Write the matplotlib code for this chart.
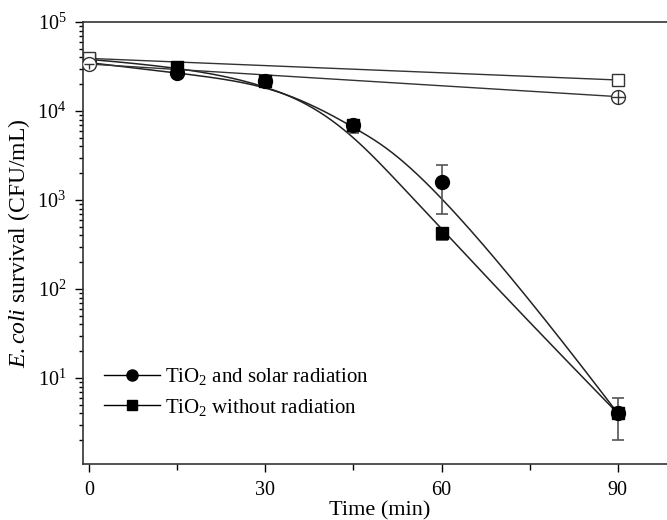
import numpy as np
import matplotlib.pyplot as plt
from matplotlib.ticker import FixedLocator, FuncFormatter, NullFormatter

plt.rcParams["font.family"] = "Liberation Serif"
plt.rcParams["mathtext.fontset"] = "custom"
plt.rcParams["mathtext.rm"] = "Liberation Serif"
plt.rcParams["mathtext.it"] = "Liberation Serif:italic"
plt.rcParams["font.size"] = 14.5

# sampling times (min)
t = np.array([0, 15, 30, 45, 60, 90])

# TiO2 and solar radiation (filled circles)
solar = np.array([3.5e4, 2.65e4, 2.2e4, 7.0e3, 1.6e3, 4.0])
solar_lo = np.array([0, 0, 0, 0, 0.9e3, 0])
solar_hi = np.array([0, 0, 0, 0, 0.9e3, 0])

# TiO2 without radiation (filled squares)
dark = np.array([3.8e4, 3.15e4, 2.15e4, 7.0e3, 430, 4.0])
dark_lo = np.array([0, 0, 0, 1.3e3, 75, 2.0])
dark_hi = np.array([0, 0, 0, 1.0e3, 0, 1.9])

# controls (open symbols), only start and end
t_ctrl = np.array([0, 90])
ctrl_square = np.array([3.9e4, 2.23e4])
ctrl_circle = np.array([3.37e4, 1.45e4])


def bspline_log(x, y, deg=3, n=400):
    # clamped B-spline using the points (x, log10 y) as control polygon
    P = np.column_stack([x.astype(float), np.log10(y)])
    m = len(P)
    k = min(deg, m - 1)
    inner = np.linspace(0, 1, m - k + 1)
    knots = np.concatenate([np.zeros(k), inner, np.ones(k)])
    u = np.linspace(0, 1, n)
    u[-1] = 1 - 1e-12
    # Cox-de Boor recursion
    N = np.zeros((n, len(knots) - 1))
    for i in range(len(knots) - 1):
        N[:, i] = (u >= knots[i]) & (u < knots[i + 1])
    for p in range(1, k + 1):
        Nn = np.zeros((n, len(knots) - 1 - p))
        for i in range(len(knots) - 1 - p):
            a = knots[i + p] - knots[i]
            b = knots[i + p + 1] - knots[i + 1]
            left = (u - knots[i]) / a * N[:, i] if a > 0 else 0
            right = (knots[i + p + 1] - u) / b * N[:, i + 1] if b > 0 else 0
            Nn[:, i] = left + right
        N = Nn
    C = N @ P
    return C[:, 0], 10 ** C[:, 1]


fig = plt.figure(figsize=(6.67, 5.2), dpi=100)
ax = fig.add_axes([0.1244, 0.1077, 0.89, 0.85])

ecol = "#555555"

xs, ys = bspline_log(t, solar)
ax.plot(xs, ys, color="#222222", lw=1.1, zorder=2)
xs, ys = bspline_log(t, dark)
ax.plot(xs, ys, color="#222222", lw=1.1, zorder=2)
ax.plot(t_ctrl, ctrl_square, color="#333333", lw=1.0, zorder=2)
ax.plot(t_ctrl, ctrl_circle, color="#333333", lw=1.0, zorder=2)

ax.errorbar(t, solar, yerr=[solar_lo, solar_hi], fmt="none", ecolor=ecol,
            elinewidth=1.2, capsize=4, capthick=1.2, zorder=3)
ax.errorbar(t, dark, yerr=[dark_lo, dark_hi], fmt="none", ecolor=ecol,
            elinewidth=1.2, capsize=4, capthick=1.2, zorder=3)

ax.plot(t, solar, "o", color="black", ms=10, zorder=4)
ax.plot(t, dark, "s", color="black", ms=9, zorder=4)

ax.plot(t_ctrl, ctrl_square, "s", mfc="white", mec="#333333", mew=1.0, ms=9, zorder=5)
ax.plot(t_ctrl, ctrl_circle, "o", mfc="white", mec="#333333", mew=1.0, ms=10, zorder=6)
ax.plot(t_ctrl[1], ctrl_circle[1], "+", color="#333333", mew=1.0, ms=10, zorder=7)
ax.plot(t_ctrl[0], ctrl_circle[0], "_", color="#333333", mew=1.0, ms=7, zorder=7)
ax.vlines(t_ctrl[0], ctrl_circle[0] * 0.87, ctrl_circle[0], color="#333333", lw=1.0, zorder=7)

# legend handles
h1, = ax.plot([], [], "-o", color="black", ms=8, lw=1.0)
h2, = ax.plot([], [], "-s", color="black", ms=7, lw=1.0)
ax.legend([h1, h2], ["TiO$_2$ and solar radiation", "TiO$_2$ without radiation"],
          loc="lower left", bbox_to_anchor=(0.035, 0.105), frameon=False,
          borderaxespad=0, borderpad=0,
          handlelength=2.7, handletextpad=0.25, labelspacing=0.45, fontsize=15)

ax.set_yscale("log")
ax.set_xlim(-1, 100)
ax.set_ylim(1.08, 1e5)

ax.xaxis.set_major_locator(FixedLocator([0, 30, 60, 90]))
ax.xaxis.set_minor_locator(FixedLocator([15, 45, 75]))
ax.yaxis.set_major_formatter(FuncFormatter(lambda v, p: r"10$^{%d}$" % round(np.log10(v))))
ax.yaxis.set_minor_formatter(NullFormatter())

ax.tick_params(axis="both", which="major", direction="out", length=6, width=1.0, pad=6)
ax.tick_params(axis="both", which="minor", direction="out", length=3, width=1.0)
ax.tick_params(axis="x", which="minor", length=4)

for s in ["left", "bottom", "top"]:
    ax.spines[s].set_linewidth(1.2)
    ax.spines[s].set_color("#333333")
ax.spines["right"].set_visible(False)

ax.set_xlabel("Time (min)", fontsize=16, labelpad=1)
ax.set_ylabel(r"$\it{E.coli}$ survival (CFU/mL)", fontsize=17, labelpad=4)

fig.savefig("out.png", dpi=100)
